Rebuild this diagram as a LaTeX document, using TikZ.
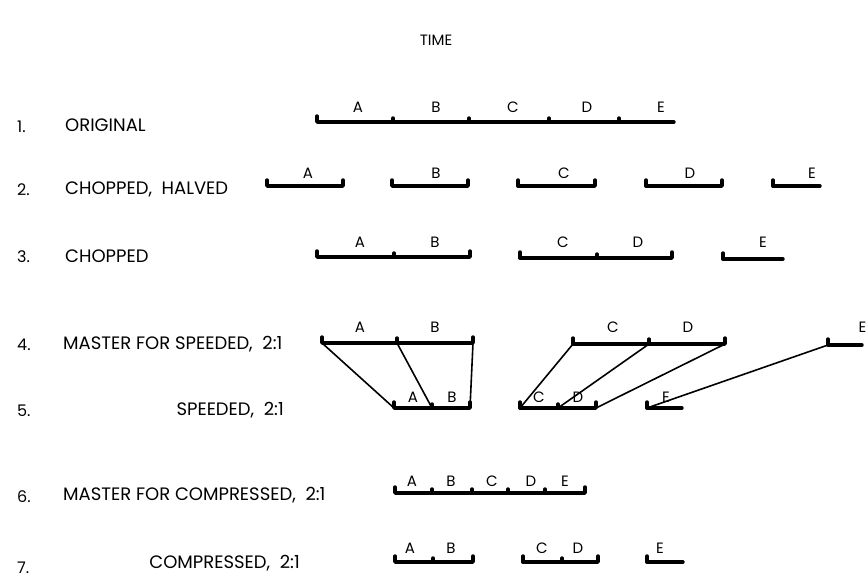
\documentclass[tikz,border=0pt]{standalone}
\usepackage{fontspec}
\setmainfont{Poppins}
\begin{document}
\begin{tikzpicture}[x=1pt,y=-1pt,
  seg/.style={line width=3.4pt,line cap=round,line join=round},
  tk/.style={line width=3.4pt,line cap=round},
  conn/.style={line width=1.6pt,line cap=round},
  lab/.style={font=\fontsize{15}{15}\selectfont,inner sep=0pt},
  rowlab/.style={font=\fontsize{18}{18}\selectfont,inner sep=0pt,anchor=west},
  num/.style={font=\fontsize{16}{18}\selectfont,inner sep=0pt,anchor=west}]
\useasboundingbox (0,0) rectangle (867,578);
\node[lab] (time) at (436,40) {TIME};
% ---------- left labels
\node[num] (n1) at (17,127) {1.};
\node[rowlab] (t1) at (65,125) {ORIGINAL};
\node[num] (n2) at (17,190) {2.};
\node[rowlab] (t2) at (65,189) {CHOPPED,\ \ HALVED};
\node[num] (n3) at (17,257) {3.};
\node[rowlab] (t3) at (65,256) {CHOPPED};
\node[num] (n4) at (17,345) {4.};
\node[rowlab] (t4) at (63,344) {MASTER FOR SPEEDED,\ \ 2:1};
\node[num] (n5) at (17,411) {5.};
\node[rowlab,anchor=east] (t5) at (284,410) {SPEEDED,\ \ 2:1};
\node[num] (n6) at (17,497) {6.};
\node[rowlab] (t6) at (63,495) {MASTER FOR COMPRESSED,\ \ 2:1};
\node[num] (n7) at (17,568) {7.};
\node[rowlab,anchor=east] (t7) at (300,563) {COMPRESSED,\ \ 2:1};
% ---------- row 1
\draw[seg] (317,116) -- (317,122) -- (674,122);
\foreach \x in {393,469,549,619} \draw[tk] (\x,118) -- (\x,121);
\foreach \x/\l in {358/A,436/B,513/C,587/D,661/E} \node[lab] at (\x,107) {\l};
% ---------- row 2
\foreach \a/\b in {267/343,392/468,518/595,646/722}
  \draw[seg] (\a,180) -- (\a,186) -- (\b,186) -- (\b,180);
\draw[seg] (773,180) -- (773,186) -- (820,186);
\foreach \x/\l in {308/A,436/B,564/C,690/D,812/E} \node[lab] at (\x,173) {\l};
% ---------- row 3
\draw[seg] (317,251) -- (317,257) -- (470,257) -- (470,251);
\draw[tk] (394,253) -- (394,256);
\draw[seg] (520,252) -- (520,258) -- (672,258) -- (672,252);
\draw[tk] (597,254) -- (597,257);
\draw[seg] (723,253) -- (723,259) -- (783,259);
\foreach \x/\l in {360/A,435/B,563/C,638/D,763/E} \node[lab] at (\x,242) {\l};
% ---------- row 4 (master for speeded)
\coordinate (m4a) at (322,343);
\coordinate (m4b) at (397,343);
\coordinate (m4c) at (473,343);
\coordinate (m4d) at (573,344);
\coordinate (m4e) at (649,344);
\coordinate (m4f) at (725,344);
\coordinate (m4g) at (828,345);
\draw[seg] (322,337) -- (m4a) -- (m4c) -- (473,337);
\draw[tk] (m4b) -- (397,338);
\draw[seg] (573,338) -- (m4d) -- (m4f) -- (725,338);
\draw[tk] (m4e) -- (649,339);
\draw[seg] (828,339) -- (m4g) -- (862,345);
\foreach \x/\l in {360/A,435/B,613/C,688/D} \node[lab] at (\x,327) {\l};
\node[lab,anchor=east] (e4) at (866.5,327) {E};
% ---------- row 5 (speeded)
\coordinate (s5a) at (394,408);
\coordinate (s5b) at (432,408);
\coordinate (s5c) at (470,408);
\coordinate (s5d) at (520,408);
\coordinate (s5e) at (558,408);
\coordinate (s5f) at (596,408);
\coordinate (s5g) at (647,408);
\draw[seg] (394,402) -- (s5a) -- (s5c) -- (470,402);
\draw[tk] (s5b) -- (432,404);
\draw[seg] (520,402) -- (s5d) -- (s5f) -- (596,402);
\draw[tk] (s5e) -- (558,404);
\draw[seg] (647,402) -- (s5g) -- (682,408);
\foreach \x/\l in {413/A,452/B,539/C,578/D,666/E} \node[lab] at (\x,397) {\l};
% connectors
\draw[conn] (m4a) -- (s5a);
\draw[conn] (m4b) -- (s5b);
\draw[conn] (m4c) -- (s5c);
\draw[conn] (m4d) -- (s5d);
\draw[conn] (m4e) -- (s5e);
\draw[conn] (m4f) -- (s5f);
\draw[conn] (m4g) -- (s5g);
% ---------- row 6
\draw[seg] (395,487) -- (395,493) -- (585,493) -- (585,487);
\foreach \x in {432,472,508,545} \draw[tk] (\x,489) -- (\x,492);
\foreach \x/\l in {412/A,451/B,492/C,531/D,565/E} \node[lab] at (\x,481) {\l};
% ---------- row 7
\draw[seg] (395,556) -- (395,562) -- (473,562) -- (473,556);
\draw[tk] (433,558) -- (433,561);
\draw[seg] (523,556) -- (523,562) -- (598,562) -- (598,556);
\draw[tk] (562,558) -- (562,561);
\draw[seg] (647,556) -- (647,562) -- (683,562);
\foreach \x/\l in {410/A,451/B,542/C,578/D,660/E} \node[lab] at (\x,548) {\l};
\end{tikzpicture}
\end{document}
